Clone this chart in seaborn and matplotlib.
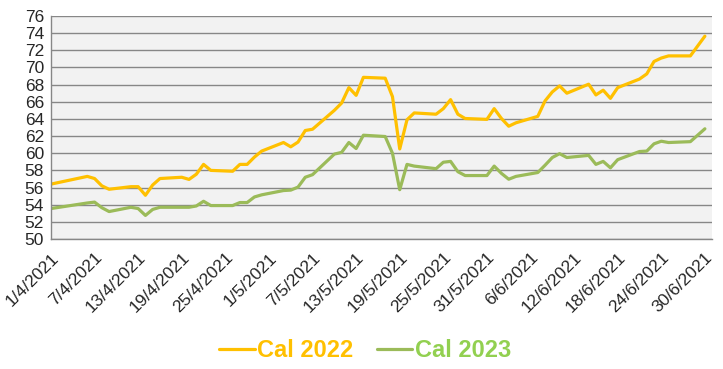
import matplotlib
matplotlib.use("Agg")
import matplotlib.pyplot as plt
import pandas as pd
import seaborn as sns

# trading days (Easter 2/4 and 5/4 missing)
dates = [
    "2021-04-01", "2021-04-06", "2021-04-07", "2021-04-08", "2021-04-09",
    "2021-04-12", "2021-04-13", "2021-04-14", "2021-04-15", "2021-04-16",
    "2021-04-19", "2021-04-20", "2021-04-21", "2021-04-22", "2021-04-23",
    "2021-04-26", "2021-04-27", "2021-04-28", "2021-04-29", "2021-04-30",
    "2021-05-03", "2021-05-04", "2021-05-05", "2021-05-06", "2021-05-07",
    "2021-05-10", "2021-05-11", "2021-05-12", "2021-05-13", "2021-05-14",
    "2021-05-17", "2021-05-18", "2021-05-19", "2021-05-20", "2021-05-21",
    "2021-05-24", "2021-05-25", "2021-05-26", "2021-05-27", "2021-05-28",
    "2021-05-31", "2021-06-01", "2021-06-02", "2021-06-03", "2021-06-04",
    "2021-06-07", "2021-06-08", "2021-06-09", "2021-06-10", "2021-06-11",
    "2021-06-14", "2021-06-15", "2021-06-16", "2021-06-17", "2021-06-18",
    "2021-06-21", "2021-06-22", "2021-06-23", "2021-06-24", "2021-06-25",
    "2021-06-28", "2021-06-29", "2021-06-30",
]

cal_2022 = [
    56.4, 57.3, 57.05, 56.2, 55.8,
    56.1, 56.1, 55.1, 56.3, 57.05,
    57.2, 56.95, 57.55, 58.7, 58.0,
    57.9, 58.7, 58.7, 59.55, 60.25,
    61.25, 60.75, 61.3, 62.65, 62.8,
    65.0, 65.85, 67.65, 66.75, 68.85,
    68.75, 66.6, 60.5, 63.9, 64.7,
    64.55, 65.2, 66.25, 64.55, 64.05,
    63.95, 65.2, 64.05, 63.15, 63.55,
    64.3, 66.1, 67.15, 67.85, 67.0,
    68.05, 66.8, 67.35, 66.4, 67.65,
    68.65, 69.25, 70.7, 71.1, 71.35,
    71.35, 72.5, 73.65,
]

cal_2023 = [
    53.55, 54.2, 54.3, 53.65, 53.2,
    53.7, 53.55, 52.75, 53.45, 53.7,
    53.7, 53.7, 53.85, 54.4, 53.9,
    53.9, 54.25, 54.25, 54.9, 55.15,
    55.65, 55.7, 56.05, 57.2, 57.5,
    59.9, 60.1, 61.25, 60.55, 62.1,
    61.95, 60.0, 55.75, 58.7, 58.5,
    58.2, 58.95, 59.05, 57.85, 57.4,
    57.4, 58.5, 57.65, 56.97, 57.3,
    57.75, 58.6, 59.5, 59.95, 59.5,
    59.75, 58.7, 59.05, 58.3, 59.25,
    60.2, 60.25, 61.1, 61.4, 61.25,
    61.35, 62.1, 62.85,
]

series_names = ["Cal 2022", "Cal 2023"]
line_colors = {"Cal 2022": "#FFC000", "Cal 2023": "#9BBB59"}
text_colors = {"Cal 2022": "#FFC000", "Cal 2023": "#92D050"}

df = pd.DataFrame({"date": pd.to_datetime(dates), "Cal 2022": cal_2022, "Cal 2023": cal_2023})
long = df.melt(id_vars="date", value_vars=series_names, var_name="series", value_name="price")

sns.set_style("whitegrid", {"axes.facecolor": "#F2F2F2", "grid.color": "#878787",
                            "axes.edgecolor": "#878787"})
plt.rcParams["font.family"] = ["Liberation Sans", "DejaVu Sans"]

fig, ax = plt.subplots(figsize=(7.23, 3.69), dpi=100)
fig.subplots_adjust(left=0.0705, right=0.985, top=0.9566, bottom=0.3523)

sns.lineplot(data=long, x="date", y="price", hue="series", palette=line_colors,
             linewidth=2.3, ax=ax, legend=False)

ax.set_xlim(pd.Timestamp("2021-04-01"), pd.Timestamp("2021-07-01"))
ax.set_ylim(50, 76)
ax.set_yticks(range(50, 77, 2))

ticks = pd.date_range("2021-04-01", "2021-06-30", freq="6D")
ax.set_xticks(ticks)
ax.set_xticklabels([f"{d.day}/{d.month}/{d.year}" for d in ticks],
                   rotation=45, ha="right", rotation_mode="anchor")

ax.grid(axis="x", visible=False)
ax.grid(axis="y", linewidth=1.0)
ax.set_axisbelow(True)
for side in ["top", "right"]:
    ax.spines[side].set_visible(False)
ax.spines["left"].set_linewidth(1.0)
ax.spines["bottom"].set_linewidth(1.0)
ax.tick_params(axis="x", length=5, width=1, color="#878787", labelsize=12.5, pad=3)
ax.tick_params(axis="y", length=3, width=1, color="#878787", labelsize=12.5, pad=2)
ax.set_xlabel("")
ax.set_ylabel("")

handles = [plt.Line2D([], [], color=line_colors[s], linewidth=2.3) for s in series_names]
leg = fig.legend(handles, series_names, loc="center", bbox_to_anchor=(0.505, 0.05),
                 ncol=2, frameon=False, handlelength=1.5, handletextpad=0.1,
                 columnspacing=1.0, prop={"size": 17, "weight": "bold"})
for txt, s in zip(leg.get_texts(), series_names):
    txt.set_color(text_colors[s])

fig.savefig("out.png", dpi=100)
